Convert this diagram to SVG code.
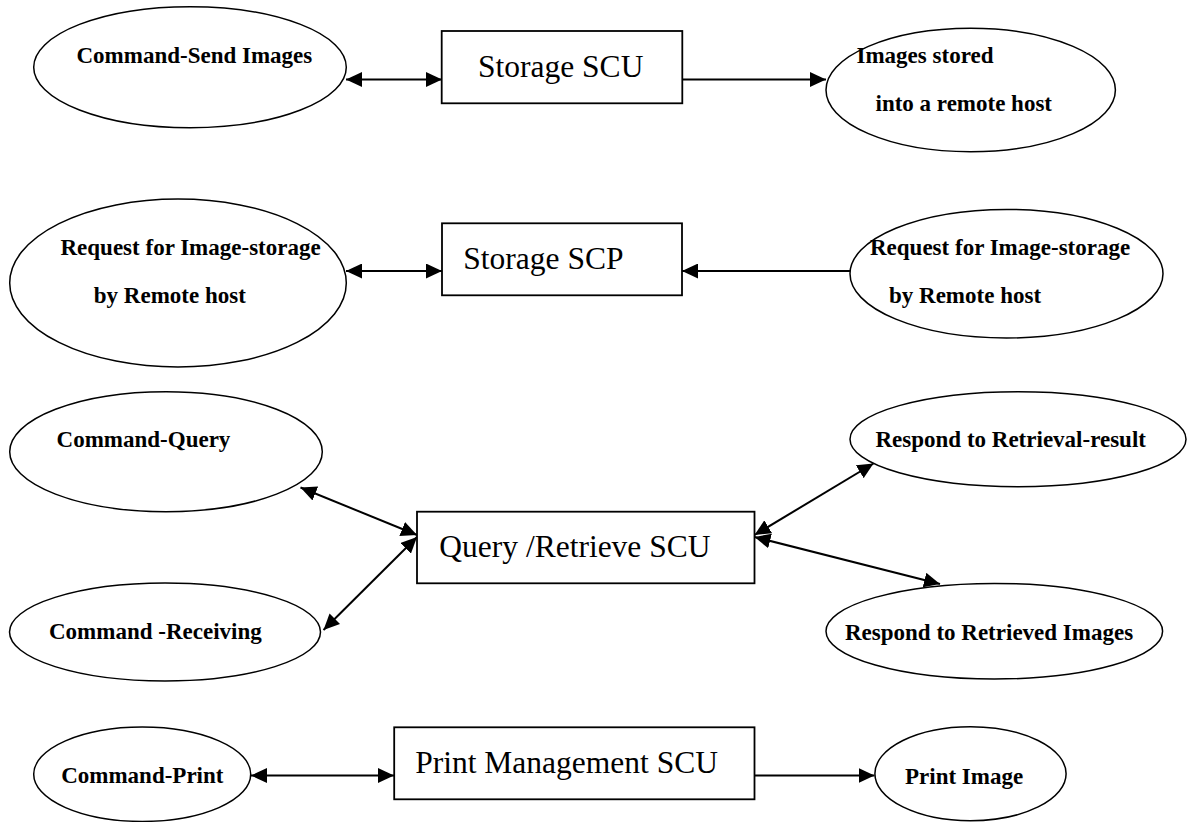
<svg xmlns="http://www.w3.org/2000/svg" width="1187" height="822" viewBox="0 0 1187 822">
<style>
.bg{fill:#fff}
.el{fill:#fff;stroke:#000;stroke-width:1.5}
.bx{fill:#fff;stroke:#000;stroke-width:1.8}
.ln{fill:none;stroke:#000;stroke-width:2}
.lb{font-family:"Liberation Serif","DejaVu Serif",serif;font-weight:bold;font-size:23px;fill:#000}
.tx{font-family:"Liberation Serif","DejaVu Serif",serif;font-size:31.5px;fill:#000}
</style>
<defs>
<marker id="ah" markerUnits="userSpaceOnUse" markerWidth="16" markerHeight="15" refX="16" refY="7.5" orient="auto-start-reverse">
<path d="M0,0 L16,7.5 L0,15 z" fill="#000"/>
</marker>
</defs>
<rect class="bg" x="0" y="0" width="1187" height="822"/>
<g id="connectors">
<line class="ln" x1="346" y1="79.5" x2="442" y2="79.5" marker-start="url(#ah)" marker-end="url(#ah)"/>
<line class="ln" x1="682" y1="79.5" x2="826" y2="79.5" marker-end="url(#ah)"/>
<line class="ln" x1="346" y1="271" x2="442" y2="271" marker-start="url(#ah)" marker-end="url(#ah)"/>
<line class="ln" x1="850" y1="271" x2="682" y2="271" marker-end="url(#ah)"/>
<line class="ln" x1="300.5" y1="487.5" x2="417" y2="535" marker-start="url(#ah)" marker-end="url(#ah)"/>
<line class="ln" x1="417" y1="537" x2="323.5" y2="630" marker-start="url(#ah)" marker-end="url(#ah)"/>
<line class="ln" x1="754.5" y1="535" x2="873.5" y2="463.5" marker-start="url(#ah)" marker-end="url(#ah)"/>
<line class="ln" x1="754.5" y1="537" x2="940" y2="584" marker-start="url(#ah)" marker-end="url(#ah)"/>
<line class="ln" x1="251" y1="775.5" x2="394" y2="775.5" marker-start="url(#ah)" marker-end="url(#ah)"/>
<line class="ln" x1="754.5" y1="775.5" x2="874.5" y2="775.5" marker-end="url(#ah)"/>
</g>
<g id="n-send">
<ellipse class="el" cx="190" cy="67.2" rx="156.3" ry="60.5"/>
<text class="lb" x="76.5" y="63">Command-Send Images</text>
</g>
<g id="n-storage-scu">
<rect class="bx" x="441.7" y="31" width="240.6" height="72.3"/>
<text class="tx" x="478" y="77.3">Storage SCU</text>
</g>
<g id="n-stored">
<ellipse class="el" cx="970.7" cy="90" rx="144.7" ry="61.7"/>
<text class="lb" x="856.5" y="63">Images stored</text>
<text class="lb" x="875.5" y="110.7">into a remote host</text>
</g>
<g id="n-req-left">
<ellipse class="el" cx="178" cy="283" rx="168.3" ry="84"/>
<text class="lb" x="60.5" y="255">Request for Image-storage</text>
<text class="lb" x="93.8" y="303">by Remote host</text>
</g>
<g id="n-storage-scp">
<rect class="bx" x="442" y="223.3" width="240" height="72"/>
<text class="tx" x="463.3" y="269.3">Storage SCP</text>
</g>
<g id="n-req-right">
<ellipse class="el" cx="1006.5" cy="273.7" rx="156.5" ry="64.3"/>
<text class="lb" x="870" y="255">Request for Image-storage</text>
<text class="lb" x="889" y="303">by Remote host</text>
</g>
<g id="n-query">
<ellipse class="el" cx="166" cy="451.7" rx="156.3" ry="60"/>
<text class="lb" x="56.6" y="447">Command-Query</text>
</g>
<g id="n-receiving">
<ellipse class="el" cx="165" cy="632" rx="155.5" ry="49"/>
<text class="lb" x="49" y="639">Command -Receiving</text>
</g>
<g id="n-qr-scu">
<rect class="bx" x="417" y="511.7" width="337.5" height="71.6"/>
<text class="tx" x="439.3" y="556.7">Query /Retrieve SCU</text>
</g>
<g id="n-result">
<ellipse class="el" cx="1018" cy="439.2" rx="168" ry="47.5"/>
<text class="lb" x="875.5" y="447">Respond to Retrieval-result</text>
</g>
<g id="n-retrieved">
<ellipse class="el" cx="994.3" cy="631.2" rx="168.3" ry="47.8"/>
<text class="lb" x="845" y="640">Respond to Retrieved Images</text>
</g>
<g id="n-print">
<ellipse class="el" cx="142.2" cy="774.2" rx="108.5" ry="47.2"/>
<text class="lb" x="61.2" y="783.3">Command-Print</text>
</g>
<g id="n-pm-scu">
<rect class="bx" x="394.2" y="727.3" width="360.3" height="72"/>
<text class="tx" x="415.2" y="773.3">Print Management SCU</text>
</g>
<g id="n-print-image">
<ellipse class="el" cx="970.5" cy="773.7" rx="95.6" ry="47"/>
<text class="lb" x="905" y="784">Print Image</text>
</g>
</svg>
